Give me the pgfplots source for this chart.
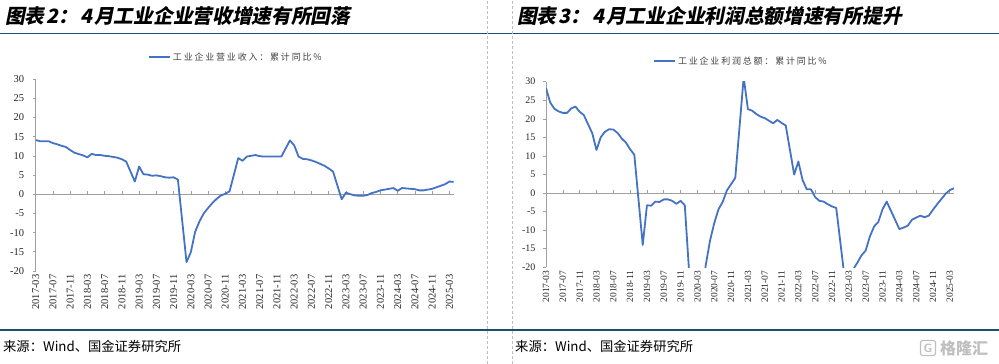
\documentclass[border=0pt]{standalone}
\usepackage{fontspec}
\usepackage{pgfplots}
\usepackage{pgfplotstable}
\pgfplotsset{compat=1.18}
\setmainfont{Liberation Serif}
\newfontfamily\cjk{Noto Sans CJK SC}
\newfontfamily\cjktitle[FakeSlant=0.2]{Noto Sans CJK SC}
\newfontfamily\cjkleg[LetterSpace=20]{Noto Sans CJK SC}
\definecolor{serblue}{HTML}{4472C4}
\definecolor{rulecol}{HTML}{1B4F72}
\definecolor{axcol}{HTML}{A0A0A0}
\definecolor{labcol}{HTML}{262626}
\definecolor{legcol}{HTML}{404040}

\pgfplotstableread{
idx val
0 14.1
1 13.8
2 13.8
3 13.8
4 13.3
5 13.0
6 12.6
7 12.3
8 11.5
9 10.8
11 10.1
12 9.6
13 10.5
14 10.2
15 10.2
16 10.0
17 9.9
18 9.7
19 9.5
20 9.1
21 8.5
23 3.3
24 7.2
25 5.2
26 5.1
27 4.8
28 4.9
29 4.7
30 4.4
31 4.3
32 4.4
33 3.8
35 -17.7
36 -15.1
37 -9.8
38 -7.1
39 -5.0
40 -3.6
41 -2.3
42 -1.2
43 -0.3
44 0.1
45 0.8
47 9.4
48 8.7
49 9.8
50 10.0
51 10.2
52 9.9
53 9.8
54 9.8
55 9.8
56 9.8
57 9.8
59 14.0
60 12.7
61 9.8
62 9.2
63 9.1
64 8.8
65 8.4
66 7.9
67 7.4
68 6.7
69 5.9
71 -1.3
72 0.4
73 0.0
74 -0.3
75 -0.4
76 -0.4
77 -0.2
78 0.3
79 0.6
80 1.0
81 1.2
83 1.6
84 0.9
85 1.6
86 1.5
87 1.4
88 1.3
89 1.0
90 1.0
91 1.2
92 1.4
93 1.8
95 2.6
96 3.3
97 3.2
}\revenue

\pgfplotstableread{
idx val
0 28.3
1 24.4
2 22.7
3 22.0
4 21.6
5 21.6
6 22.8
7 23.3
8 21.9
9 21.0
11 16.1
12 11.6
13 15.0
14 16.5
15 17.2
16 17.1
17 16.2
18 14.7
19 13.6
20 11.8
21 10.3
23 -14.0
24 -3.3
25 -3.4
26 -2.3
27 -2.4
28 -1.7
29 -1.7
30 -2.1
31 -2.9
32 -2.1
33 -3.3
35 -38.3
36 -36.7
37 -27.4
38 -19.3
39 -12.8
40 -8.1
41 -4.4
42 -2.4
43 0.7
44 2.4
45 4.1
47 31.2
48 22.6
49 22.2
50 21.3
51 20.6
52 20.2
53 19.5
54 18.8
55 19.7
56 18.9
57 18.2
59 5.0
60 8.5
61 3.5
62 1.0
63 1.0
64 -1.1
65 -2.1
66 -2.3
67 -3.0
68 -3.6
69 -4.0
71 -22.9
72 -21.4
73 -20.6
74 -18.8
75 -16.8
76 -15.5
77 -11.7
78 -9.0
79 -7.8
80 -4.4
81 -2.3
83 -7.2
84 -9.7
85 -9.3
86 -8.8
87 -7.2
88 -6.6
89 -6.1
90 -6.5
91 -6.1
92 -4.5
93 -3.0
95 -0.2
96 0.8
97 1.3
}\profit

\pgfplotsset{
  panel/.style={
    scale only axis,
    anchor=south west,
    xmin=0, xmax=97, ymin=-20, ymax=30,
    axis line style={draw=none},
    tick style={draw=none},
    clip mode=individual,
    xtick={0,4,...,96},
    xticklabels={2017-03,2017-07,2017-11,2018-03,2018-07,2018-11,2019-03,2019-07,2019-11,2020-03,2020-07,2020-11,2021-03,2021-07,2021-11,2022-03,2022-07,2022-11,2023-03,2023-07,2023-11,2024-03,2024-07,2024-11,2025-03},
    ytick={-20,-15,...,30},
    yticklabels={-20,-15,-10,-5,0,5,10,15,20,25,30},
    xticklabel style={rotate=90, anchor=east, text=labcol},
    yticklabel style={text=labcol, anchor=east},
    legend style={draw=none, fill=none, anchor=center, text=legcol, inner sep=0pt},
    legend image code/.code={\draw[#1] (0pt,0pt) -- (21pt,0pt);},
  },
  series/.style={color=serblue, draw=serblue, line width=1.8pt, line join=round, mark=none},
}

\begin{document}
\begin{tikzpicture}[x=1pt,y=1pt]
\useasboundingbox (0,0) rectangle (999,364);
% titles
\node[anchor=base west, inner sep=0] at (5,340) {\cjktitle\bfseries\fontsize{19.7}{22}\selectfont 图表\hspace{2pt}2：\hspace{2pt}4\hspace{2pt}月工业企业营收增速有所回落};
\node[anchor=base west, inner sep=0] at (517,340) {\cjktitle\bfseries\fontsize{19.7}{22}\selectfont 图表\hspace{2pt}3：\hspace{2pt}4\hspace{2pt}月工业企业利润总额增速有所提升};
% rules
\draw[rulecol, line width=1.1pt] (0,330.7) -- (999,330.7);
\draw[rulecol, line width=1.1pt] (0,34) -- (999,34);
\draw[black!25, dash pattern=on 3pt off 2pt] (487.3,0) -- (487.3,364);
\draw[black!25, dash pattern=on 3pt off 2pt] (511.7,0) -- (511.7,364);
% sources
\node[anchor=base west, inner sep=0] at (3,12) {\cjk\fontsize{13.3}{15}\selectfont 来源：Wind、国金证券研究所};
\node[anchor=base west, inner sep=0] at (515,12) {\cjk\fontsize{13.3}{15}\selectfont 来源：Wind、国金证券研究所};
% watermark
\node[draw=black!25, text=black!25, rounded corners=2pt, line width=1.1pt, minimum size=15pt, inner sep=0pt, font=\sffamily\bfseries\fontsize{12}{12}\selectfont] at (928,16) {G};
\node[anchor=west, inner sep=0, text=black!25] at (940,16) {\cjk\bfseries\fontsize{16}{16}\selectfont 格隆汇};

% left panel
\begin{axis}[panel,
  at={(35.7pt,93pt)}, width=418pt, height=192pt,
  xticklabel style={font=\fontsize{10.5}{12}\selectfont},
  yticklabel style={font=\fontsize{10.5}{12}\selectfont, xshift=-8pt},
  legend style={at={(0.479,1.1146)}, font=\cjkleg\fontsize{9}{11}\selectfont},
]
\draw[axcol, line width=0.8pt] (axis cs:0,-20) -- (axis cs:0,30);
\pgfplotsinvokeforeach{-20,-15,...,30}{\draw[axcol, line width=0.6pt] (axis cs:0,#1) -- (axis cs:-0.7,#1);}
\draw[axcol, line width=1pt] (axis cs:0,0) -- (axis cs:97,0);
\pgfplotsinvokeforeach{4,8,...,96}{\draw[axcol, line width=0.6pt] (axis cs:#1,0) -- (axis cs:#1,0.8);}
\addplot[series] table[x=idx, y=val] {\revenue};
\addlegendentry{工业企业营业收入：累计同比\%}
\end{axis}

% right panel
\begin{axis}[panel,
  at={(546pt,96.7pt)}, width=408pt, height=185.6pt,
  xticklabel style={font=\fontsize{9.5}{11}\selectfont},
  yticklabel style={font=\fontsize{10}{12}\selectfont, xshift=-7pt},
  legend style={at={(0.478,1.111)}, font=\cjkleg\fontsize{9}{11}\selectfont},
]
\draw[axcol, line width=0.8pt] (axis cs:0,-20) -- (axis cs:0,30);
\pgfplotsinvokeforeach{-20,-15,...,30}{\draw[axcol, line width=0.6pt] (axis cs:0,#1) -- (axis cs:-0.7,#1);}
\draw[axcol, line width=1pt] (axis cs:0,0) -- (axis cs:97,0);
\pgfplotsinvokeforeach{4,8,...,96}{\draw[axcol, line width=0.6pt] (axis cs:#1,0) -- (axis cs:#1,0.8);}
\addplot[series] table[x=idx, y=val] {\profit};
\addlegendentry{工业企业利润总额：累计同比\%}
\end{axis}
\end{tikzpicture}
\end{document}
